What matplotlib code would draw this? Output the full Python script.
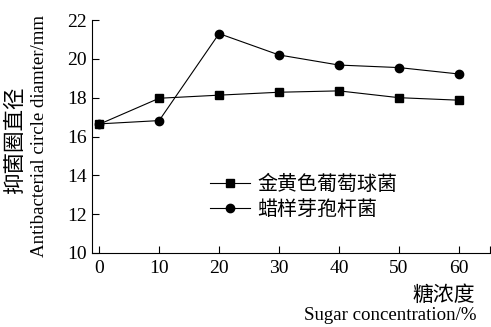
import matplotlib.pyplot as plt

plt.rcParams['font.family'] = ['Liberation Serif', 'Noto Sans CJK SC']

# data
sugar = [0, 10, 20, 30, 40, 50, 60]
staph = [16.63, 17.97, 18.13, 18.28, 18.35, 18.0, 17.87]     # 金黄色葡萄球菌
bacillus = [16.65, 16.82, 21.3, 20.2, 19.68, 19.55, 19.22]   # 蜡样芽孢杆菌
names = [u'金黄色葡萄球菌', u'蜡样芽孢杆菌']

fig = plt.figure(figsize=(4.91, 3.27), dpi=100)
ax = fig.add_axes([0.1874, 0.2263, 0.8106, 0.7125])

ax.plot(sugar, staph, 'k-', marker='s', ms=6, lw=0.8, label=names[0])
ax.plot(sugar, bacillus, 'k-', marker='o', ms=6, lw=0.8, label=names[1])

ax.set_xlim(-1.2, 65.2)
ax.set_ylim(10, 22)
ax.set_xticks(sugar)
ax.set_yticks([10, 12, 14, 16, 18, 20, 22])
ax.set_xticks([65.2], minor=True)
ax.tick_params(direction='in', length=5, width=0.8, labelsize=14, colors='k')
ax.tick_params(which='minor', direction='in', length=5, width=0.8)
ax.tick_params(axis='x', pad=5)
for s in ['top', 'right']:
    ax.spines[s].set_visible(False)
for s in ['left', 'bottom']:
    ax.spines[s].set_linewidth(0.8)

leg = ax.legend(loc='upper left', bbox_to_anchor=(0.25, 0.418), frameon=False,
                handlelength=2.0, handletextpad=0.4, labelspacing=0.2,
                prop={'family': ['Noto Sans CJK SC'], 'size': 14.4})

fig.text(0.031, 0.572, u'抑菌圈直径', rotation=90, ha='center', va='center',
         fontsize=15.5, family=['Noto Sans CJK SC'])
fig.text(0.081, 0.583, 'Antibacterial circle diamter/mm', rotation=90,
         ha='center', va='center', fontsize=13.6)
fig.text(0.968, 0.098, u'糖浓度', ha='right', va='center',
         fontsize=15, family=['Noto Sans CJK SC'])
fig.text(0.971, 0.008, 'Sugar concentration/%', ha='right', va='bottom',
         fontsize=13.6)

fig.savefig('out.png', dpi=100)
